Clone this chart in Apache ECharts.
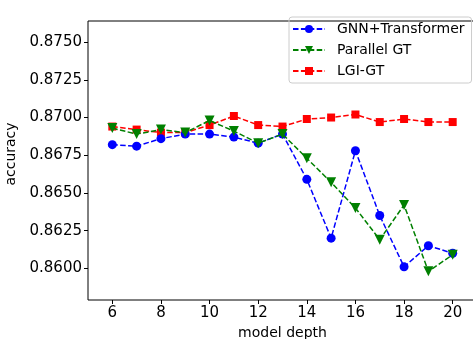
<!DOCTYPE html>
<html>
<head>
<meta charset="utf-8">
<script src="https://cdn.jsdelivr.net/npm/echarts@6/dist/echarts.min.js"></script>
<style>html,body{margin:0;padding:0;background:#fff;}#c{width:473px;height:339px;}</style>
</head>
<body>
<div id="c"></div>
<script>
const depths = [6,7,8,9,10,11,12,13,14,15,16,17,18,19,20];
const gnnTransformer = [0.8682,0.8681,0.8686,0.8689,0.8689,0.8687,0.8683,0.8689,0.8659,0.8620,0.8678,0.8635,0.8601,0.8615,0.8610];
const parallelGT = [0.8693,0.8689,0.8692,0.8690,0.8698,0.8691,0.8683,0.8689,0.8673,0.8657,0.8640,0.8619,0.8642,0.8598,0.8609];
const lgiGT = [0.8694,0.8692,0.8690,0.8690,0.8695,0.8701,0.8695,0.8694,0.8699,0.8700,0.8702,0.8697,0.8699,0.8697,0.8697];
const xTicks = [6,8,10,12,14,16,18,20];
const yTicks = [0.8600,0.8625,0.8650,0.8675,0.8700,0.8725,0.8750];
const seriesNames = ['GNN+Transformer','Parallel GT','LGI-GT'];

const font = 'DejaVu Sans';
const chart = echarts.init(document.getElementById('c'), null, {renderer:'canvas'});
function pts(arr){ return depths.map((d,i)=>[d,arr[i]]); }
const dash = [5.5,2.4];
chart.setOption({
  animation:false,
  grid:{left:88, top:21, right:-4, bottom:39, show:true, borderColor:'#000', borderWidth:1, backgroundColor:'transparent', containLabel:false, outerBoundsMode:'none'},
  legend:{
    left:289, top:17, orient:'vertical', itemWidth:32, itemHeight:10, itemGap:7,
    padding:[5,7,5,3], borderColor:'#ccc', borderWidth:1, borderRadius:3,
    textStyle:{fontFamily:font, fontSize:14, color:'#000', padding:[0,0,0,7]},
    data: seriesNames
  },
  xAxis:{
    type:'value', min:5, max:21,
    name:'model depth', nameLocation:'middle', nameGap:26,
    nameTextStyle:{fontFamily:font, fontSize:14, color:'#000'},
    axisLine:{show:false}, splitLine:{show:false},
    axisTick:{show:true, length:4, inside:false, customValues:xTicks, lineStyle:{color:'#000'}},
    axisLabel:{customValues:xTicks, fontFamily:font, fontSize:15, color:'#000', margin:6}
  },
  yAxis:{
    type:'value', min:0.8579, max:0.8764,
    name:'accuracy', nameLocation:'middle', nameGap:65, nameRotate:90,
    nameTextStyle:{fontFamily:font, fontSize:14, color:'#000', padding:[0,0,0,13]},
    axisLine:{show:false}, splitLine:{show:false},
    axisTick:{show:true, length:4, customValues:yTicks, lineStyle:{color:'#000'}},
    axisLabel:{customValues:yTicks, fontFamily:font, fontSize:15, color:'#000', margin:6,
      formatter:v=>v.toFixed(4)}
  },
  series:[
    {name:seriesNames[0], type:'line', data:pts(gnnTransformer), symbol:'circle', symbolSize:9,
     itemStyle:{color:'#0000ff'}, lineStyle:{color:'#0000ff', width:1.5, type:dash}, z:3},
    {name:seriesNames[1], type:'line', data:pts(parallelGT), symbol:'triangle', symbolRotate:180, symbolSize:10,
     itemStyle:{color:'#008000'}, lineStyle:{color:'#008000', width:1.5, type:dash}, z:4},
    {name:seriesNames[2], type:'line', data:pts(lgiGT), symbol:'rect', symbolSize:8,
     itemStyle:{color:'#ff0000'}, lineStyle:{color:'#ff0000', width:1.5, type:dash}, z:2}
  ]
});
</script>
</body>
</html>
